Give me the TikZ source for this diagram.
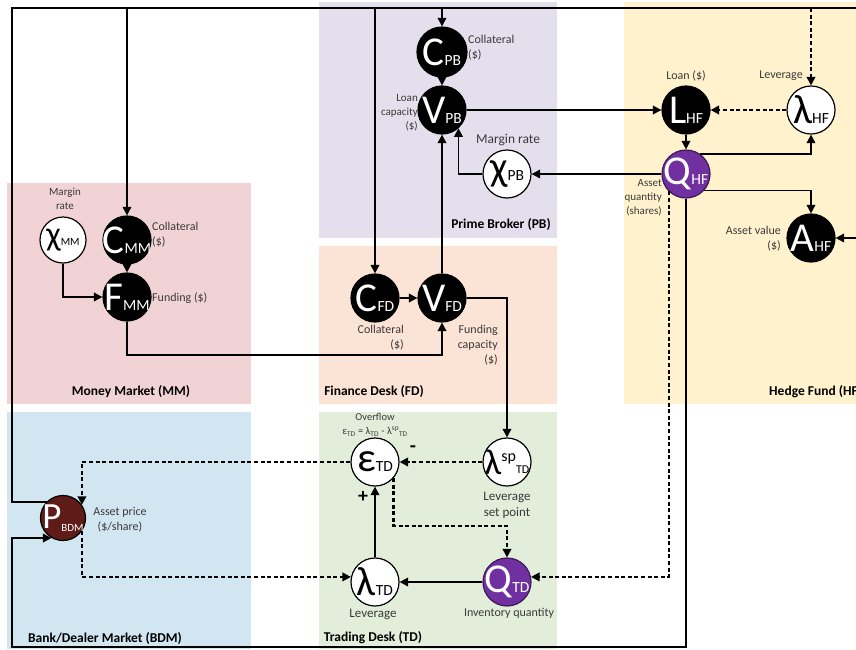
\documentclass[tikz,border=0pt]{standalone}
\usepackage{fontspec}
\setmainfont{Carlito}
\usetikzlibrary{arrows.meta}
\definecolor{cPB}{HTML}{E4DFEC}
\definecolor{cHF}{HTML}{FFF2CC}
\definecolor{cMM}{HTML}{F2D3D5}
\definecolor{cFD}{HTML}{FBE3D6}
\definecolor{cTD}{HTML}{E2EEDA}
\definecolor{cBDM}{HTML}{D2E6F2}
\definecolor{cQ}{HTML}{7030A0}
\definecolor{cP}{HTML}{5E1B17}
\definecolor{ctxt}{HTML}{3A3A3A}
\newcommand\NV[2]{{\fontsize{41}{41}\selectfont #1}{\fontsize{15.5}{15.5}\selectfont #2}}
\begin{document}
\begin{tikzpicture}[x=1pt,y=-1pt,
  circ/.style={circle,minimum size=48pt,inner sep=0pt,line width=1.2pt},
  blk/.style={circ,fill=black,draw=black,label={[text=white,inner sep=0pt]center:#1}},
  wht/.style={circ,fill=white,draw=black,label={[text=black,inner sep=0pt]center:#1}},
  pur/.style={circ,fill=cQ,draw=cQ!55!black,label={[text=white,inner sep=0pt]center:#1}},
  brn/.style={circ,fill=cP,draw=black,label={[text=white,inner sep=0pt]center:#1}},
  ln/.style={line width=1.8pt},
  arr/.style={ln,-{Triangle[length=8.5pt,width=8.5pt]}},
  dsh/.style={line width=2.2pt,dash pattern=on 4pt off 2.6pt},
  lab/.style={inner sep=0pt,text=ctxt,font=\fontsize{12}{15}\selectfont},
  labs/.style={inner sep=0pt,text=ctxt,font=\fontsize{11}{14}\selectfont},
  labm/.style={inner sep=0pt,text=ctxt,font=\fontsize{13}{16}\selectfont},
  labl/.style={inner sep=0pt,text=ctxt,font=\fontsize{13.5}{17}\selectfont},
  labt/.style={inner sep=0pt,text=ctxt,font=\fontsize{10.5}{14}\selectfont},
  ttl/.style={inner sep=0pt,text=black,font=\fontsize{13.5}{15}\selectfont\bfseries},
  sgn/.style={inner sep=0pt,text=black,font=\fontsize{20}{20}\selectfont\bfseries}
]
\useasboundingbox (0,0) rectangle (856,649);
% regions
\fill[cPB] (319,2) rectangle (557,238);
\fill[cHF] (624,2) rectangle (860,404);
\fill[cMM] (7,183) rectangle (251,404);
\fill[cFD] (319,246) rectangle (557,404);
\fill[cTD] (319,412) rectangle (557,649);
\fill[cBDM] (7,412) rectangle (251,649);

% nodes
\node[blk={\NV{C}{PB}},minimum size=50pt] (CPB) at (442,52) {};
\node[blk={\NV{V}{PB}}] (VPB) at (442,110) {};
\node[wht={\NV{χ}{PB}}] (XPB) at (507,174) {};
\node[blk={\NV{L}{HF}}] (LHF) at (686,110) {};
\node[wht={\NV{λ}{HF}}] (LamHF) at (811,110) {};
\node[pur={\NV{Q}{HF}}] (QHF) at (686,174) {};
\node[blk={\NV{A}{HF}}] (AHF) at (811,238) {};
\node[wht={{\fontsize{34}{34}\selectfont χ}{\fontsize{11}{11}\selectfont MM}},minimum size=46pt] (XMM) at (63,240) {};
\node[blk={\NV{C}{MM}}] (CMM) at (127,240) {};
\node[blk={\NV{F}{MM}}] (FMM) at (127,297) {};
\node[blk={\NV{C}{FD}}] (CFD) at (375,298) {};
\node[blk={\NV{V}{FD}}] (VFD) at (442,298) {};
\node[wht={\NV{ε}{TD}}] (EPS) at (375,462) {};
\node[wht={{\fontsize{36}{36}\selectfont λ}\raisebox{13pt}{\fontsize{16}{16}\selectfont sp}\raisebox{1pt}{\fontsize{12}{12}\selectfont TD}}] (LSP) at (507,462) {};
\node[wht={\NV{λ}{TD}}] (LTD) at (375,582) {};
\node[pur={\NV{Q}{TD}}] (QTD) at (507,582) {};
\node[brn={{\fontsize{37}{37}\selectfont P}\raisebox{-3pt}{\fontsize{11}{11}\selectfont BDM}},minimum size=45pt] (PBDM) at (63,518) {};

% coordinates
\coordinate (tl) at (12,8);
\coordinate (tr) at (856,8);
\coordinate (bl) at (12,647);
\coordinate (ar) at (856,238);
\coordinate (ymm) at (0,355);
\coordinate (yeq) at (0,526);

% connectors
\draw[ln] (PBDM.135) -| (tl) -- (tr);
\draw[arr] (CMM |- tl) -- (CMM);
\draw[arr] (CFD |- tl) -- (CFD);
\draw[arr] (CPB |- tl) -- (CPB);
\draw[arr,dsh] (LamHF |- tl) -- (LamHF);
\draw[arr] (CMM) -- (FMM);
\draw[arr] (XMM) |- (FMM);
\draw[arr] (FMM) -- (FMM |- ymm) -| (VFD);
\draw[arr] (CFD) -- (VFD);
\draw[arr] (VFD) -- (VPB);
\draw[arr] (VFD) -| (LSP);
\draw[arr] (CPB) -- (VPB);
\draw[arr] (XPB) -| (VPB.-48);
\draw[arr] (QHF) -- (XPB);
\draw[arr] (VPB) -- (LHF);
\draw[arr,dsh] (LamHF) -- (LHF);
\draw[arr] (LHF) -- (QHF);
\draw[arr] (QHF.56) -| (LamHF);
\draw[arr] (QHF.-42) -| (AHF);
\draw[arr] (ar) -- (AHF);
\draw[arr,dsh] (QHF.225) |- (QTD.12);
\draw[arr] (QHF) |- (bl) |- (PBDM.240);
\draw[arr,dsh] (LSP) -- (EPS);
\draw[arr] (LTD) -- (EPS);
\draw[arr] (QTD) -- (LTD);
\draw[arr,dsh] (EPS.-41) -- (EPS.-41 |- yeq) -| (QTD);
\draw[arr,dsh] (EPS) -| (PBDM.35);
\draw[arr,dsh] (PBDM.-35) |- (LTD.168);

% labels
\node[lab,align=left,anchor=west] (tCPB) at (468,48) {Collateral\\(\$)};
\node[labs,align=right,anchor=east] (tVPB) at (418,113) {Loan\\capacity\\(\$)};
\node[labl] (tXPB) at (508,140) {Margin rate};
\node[ttl] (tPB) at (501,225) {Prime Broker (PB)};
\node[lab] (tLHF) at (686,76) {Loan (\$)};
\node[lab] (tLamHF) at (781,76) {Leverage};
\node[labs,align=right,anchor=east] (tQHF) at (662,198) {Asset\\quantity\\(shares)};
\node[lab,align=right,anchor=east] (tAHF) at (781,239) {Asset value\\(\$)};
\node[ttl,anchor=west] (tHF) at (769,392) {Hedge Fund (HF)};
\node[labs,align=center] (tXMM) at (65,199) {Margin\\rate};
\node[lab,align=left,anchor=west] (tCMM) at (152,235) {Collateral\\(\$)};
\node[lab,anchor=west] (tFMM) at (152,298) {Funding (\$)};
\node[ttl] (tMM) at (131,392) {Money Market (MM)};
\node[lab,align=right,anchor=east] (tCFD) at (404,338) {Collateral\\(\$)};
\node[lab,align=right,anchor=east] (tVFD) at (498,345) {Funding\\capacity\\(\$)};
\node[ttl] (tFD) at (374,392) {Finance Desk (FD)};
\node[labt,align=center] (tEPS) at (375,425) {Overflow\\ε\textsubscript{TD} = λ\textsubscript{TD} - λ\textsuperscript{sp}\textsubscript{TD}};
\node[sgn] (minus) at (413,449) {-};
\node[sgn] (plus) at (363,497) {+};
\node[labm,align=center] (tLSP) at (507,505) {Leverage\\set point};
\node[labm] (tLTD) at (373,614) {Leverage};
\node[lab] (tQTD) at (509,613) {Inventory quantity};
\node[ttl] (tTD) at (373,638) {Trading Desk (TD)};
\node[ttl] (tBDM) at (105,638) {Bank/Dealer Market (BDM)};
\node[lab,align=center] (tP) at (120,520) {Asset price\\(\$/share)};
\end{tikzpicture}
\end{document}
